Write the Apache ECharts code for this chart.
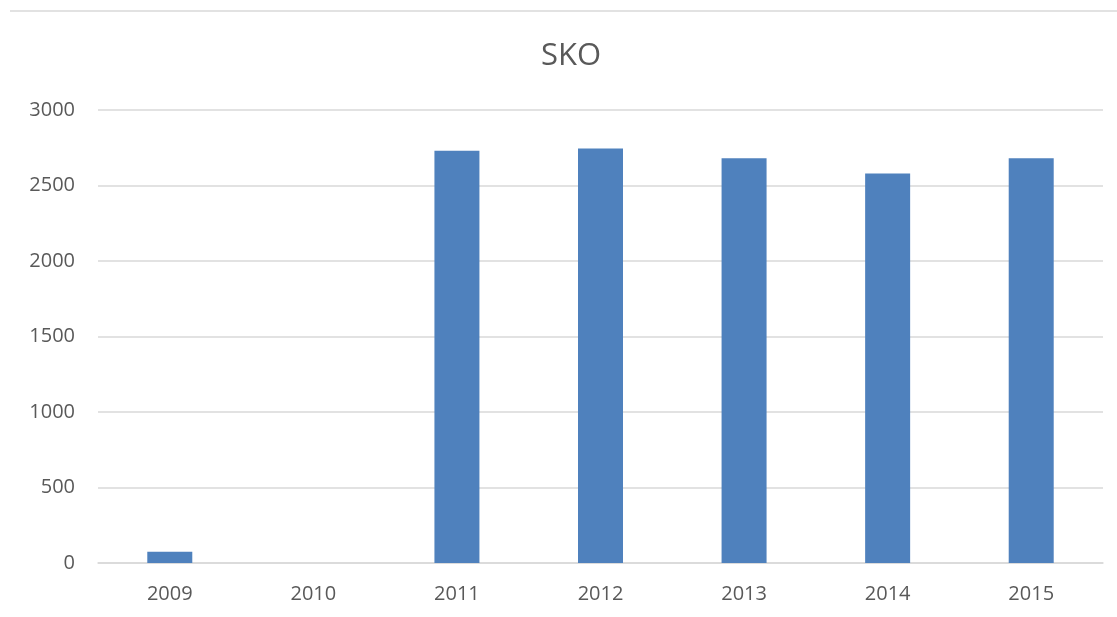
<!DOCTYPE html>
<html>
<head>
<meta charset="utf-8">
<script src="https://cdn.jsdelivr.net/npm/echarts@6/dist/echarts.min.js"></script>
<style>
  html, body { margin: 0; padding: 0; background: #fff; }
  #chart { width: 1117px; height: 617px; }
</style>
</head>
<body>
<div id="chart"></div>
<script>
// data
var years = ['2009', '2010', '2011', '2012', '2013', '2014', '2015'];
var skoValues = [75, 0, 2730, 2745, 2680, 2580, 2680];

var chart = echarts.init(document.getElementById('chart'));
var textColor = '#595959';
var lineColor = '#d9d9d9';

chart.setOption({
    backgroundColor: '#fff',
    animation: false,
    // thin frame line along the top like the original
    graphic: [{
        type: 'line',
        shape: { x1: 10, y1: 11, x2: 1117, y2: 11 },
        style: { stroke: lineColor, lineWidth: 1.5 }
    }],
    title: {
        text: 'SKO',
        left: 566,
        textAlign: 'center',
        top: 36,
        textStyle: {
            color: textColor,
            fontFamily: 'Open Sans',
            fontSize: 31,
            fontWeight: 'normal'
        }
    },
    grid: {
        left: 98,
        right: 14,
        top: 110,
        bottom: 54
    },
    xAxis: {
        type: 'category',
        data: years,
        axisLine: { lineStyle: { color: lineColor, width: 1.5 } },
        axisTick: { show: false },
        axisLabel: {
            color: textColor,
            fontFamily: 'Open Sans',
            fontSize: 20,
            margin: 21
        }
    },
    yAxis: {
        type: 'value',
        min: 0,
        max: 3000,
        interval: 500,
        axisLine: { show: false },
        axisTick: { show: false },
        axisLabel: {
            color: textColor,
            fontFamily: 'Open Sans',
            fontSize: 20,
            margin: 23,
            formatter: function (v) { return String(v); }
        },
        splitLine: { lineStyle: { color: lineColor, width: 1.5 } }
    },
    series: [{
        name: 'SKO',
        type: 'bar',
        data: skoValues,
        barWidth: 45,
        itemStyle: { color: '#4f81bd' }
    }]
});
</script>
</body>
</html>
